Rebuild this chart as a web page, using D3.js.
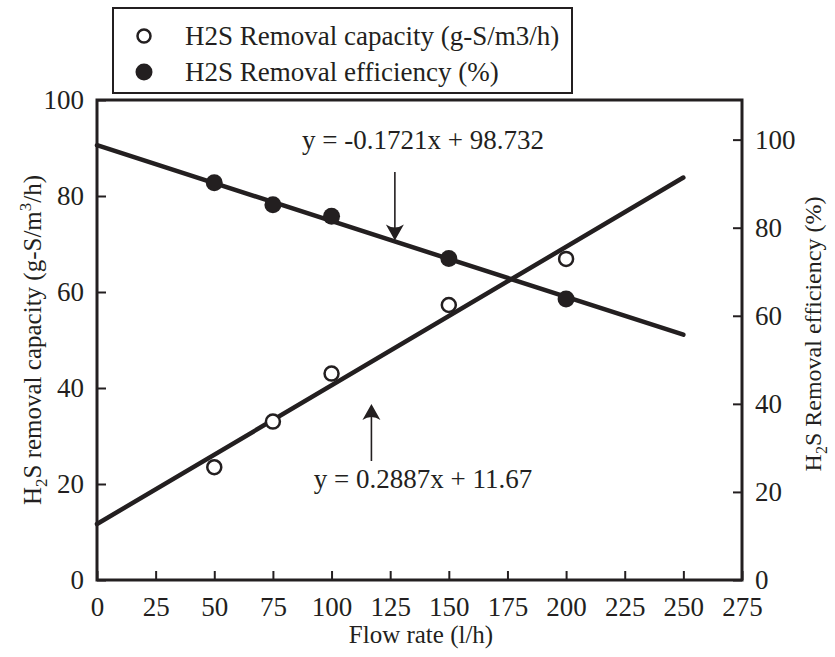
<!DOCTYPE html>
<html>
<head>
<meta charset="utf-8">
<script src="https://cdn.jsdelivr.net/npm/d3@7"></script>
<style>
  html, body { margin: 0; padding: 0; background: #fff; }
</style>
</head>
<body>
<svg id="chart" width="835" height="657"></svg>
<script>
// Flow rates tested (l/h)
const flowRates = [50, 75, 100, 150, 200];
// H2S removal capacity (g-S/m3/h), left axis
const capacity = [23.5, 33.0, 43.0, 57.3, 66.9];
// H2S removal efficiency (%), right axis
const efficiency = [90.2, 85.2, 82.6, 73.0, 63.8];
// Linear fits: y = slope * x + intercept
const capacityFit = { slope: 0.2887, intercept: 11.67, label: "y = 0.2887x + 11.67" };
const efficiencyFit = { slope: -0.1721, intercept: 98.732, label: "y = -0.1721x + 98.732" };
const fitRange = [0, 250];
const xTicks = [0, 25, 50, 75, 100, 125, 150, 175, 200, 225, 250, 275];
const leftTicks = [0, 20, 40, 60, 80, 100];
const rightTicks = [0, 20, 40, 60, 80, 100];

const ink = "#231f20";
const serif = "'Liberation Serif', serif";
const svg = d3.select("#chart").style("font-family", serif);
const m = { left: 97, right: 742, top: 100, bottom: 580 };

const x = d3.scaleLinear().domain([0, 275]).range([m.left, m.right]);
const yL = d3.scaleLinear().domain([0, 100]).range([m.bottom, m.top]);
const yR = d3.scaleLinear().domain([0, 109]).range([m.bottom, m.top]);

const tickLen = 9;
const fontSize = 27;
const titleSize = 25;

// Axes (ticks point inward)
const gx = svg.append("g").attr("transform", `translate(0,${m.bottom})`)
  .call(d3.axisBottom(x).tickValues(xTicks).tickSizeInner(-tickLen).tickSizeOuter(0).tickPadding(tickLen + 8));
const gl = svg.append("g").attr("transform", `translate(${m.left},0)`)
  .call(d3.axisLeft(yL).tickValues(leftTicks).tickSizeInner(-tickLen).tickSizeOuter(0).tickPadding(tickLen + 4));
const gr = svg.append("g").attr("transform", `translate(${m.right},0)`)
  .call(d3.axisRight(yR).tickValues(rightTicks).tickSizeInner(-tickLen).tickSizeOuter(0).tickPadding(tickLen + 4));
[gx, gl, gr].forEach(g => {
  g.attr("font-family", null).style("font-family", serif);
  g.select(".domain").remove();
  g.selectAll(".tick line").attr("stroke", ink).attr("stroke-width", 2);
  g.selectAll(".tick text").attr("font-size", fontSize).attr("fill", ink).style("font-family", serif);
});

// Plot frame
svg.append("rect")
  .attr("x", m.left).attr("y", m.top)
  .attr("width", m.right - m.left).attr("height", m.bottom - m.top)
  .attr("fill", "none").attr("stroke", ink).attr("stroke-width", 3);

// Fit lines
const fitLine = (fit, y) => d3.line()
  .x(d => x(d)).y(d => y(fit.slope * d + fit.intercept))(fitRange);
svg.append("path").attr("d", fitLine(efficiencyFit, yR))
  .attr("fill", "none").attr("stroke", ink).attr("stroke-width", 4.5).attr("stroke-linecap", "round");
svg.append("path").attr("d", fitLine(capacityFit, yL))
  .attr("fill", "none").attr("stroke", ink).attr("stroke-width", 4.5).attr("stroke-linecap", "round");

// Data points
svg.append("g").selectAll("circle").data(flowRates).join("circle")
  .attr("cx", (d) => x(d)).attr("cy", (d, i) => yL(capacity[i])).attr("r", 7)
  .attr("fill", "#fff").attr("stroke", ink).attr("stroke-width", 2.5);
svg.append("g").selectAll("circle").data(flowRates).join("circle")
  .attr("cx", (d) => x(d)).attr("cy", (d, i) => yR(efficiency[i])).attr("r", 8.5)
  .attr("fill", ink);

// Arrow helper: shaft with a swept arrowhead at (tx, ty)
function arrow(x0, y0, tx, ty) {
  const dir = Math.sign(ty - y0);
  svg.append("line").attr("x1", x0).attr("y1", y0).attr("x2", tx).attr("y2", ty - dir * 4)
    .attr("stroke", ink).attr("stroke-width", 1.6);
  const h = 16, w = 9, notch = 10;
  svg.append("path")
    .attr("d", `M${tx},${ty} L${tx - w},${ty - dir * h} Q${tx},${ty - dir * notch} ${tx + w},${ty - dir * h} Z`)
    .attr("fill", ink);
}

function label(xp, yp, txt, size) {
  return svg.append("text").attr("x", xp).attr("y", yp).attr("text-anchor", "middle")
    .attr("font-size", size || fontSize).attr("fill", ink).style("font-family", serif).text(txt);
}

// Fit equation labels with arrows
const effX = 127, capX = 117;
label(423, 149, efficiencyFit.label);
arrow(x(effX), 172, x(effX), yR(efficiencyFit.slope * effX + efficiencyFit.intercept) - 1);

label(423, 488, capacityFit.label);
arrow(x(capX), 461, x(capX), 404);

// Axis titles
label(421, 643, "Flow rate (l/h)", titleSize);

const leftTitle = svg.append("text")
  .attr("transform", `translate(41,340) rotate(-90)`)
  .attr("text-anchor", "middle").attr("font-size", titleSize).attr("fill", ink).style("font-family", serif);
leftTitle.append("tspan").text("H");
leftTitle.append("tspan").attr("font-size", 17).attr("dy", 6).text("2");
leftTitle.append("tspan").attr("dy", -6).text("S removal capacity (g-S/m");
leftTitle.append("tspan").attr("font-size", 17).attr("dy", -10).text("3");
leftTitle.append("tspan").attr("dy", 10).text("/h)");

const rightTitle = svg.append("text")
  .attr("transform", `translate(821,334) rotate(-90)`)
  .attr("text-anchor", "middle").attr("font-size", 24).attr("fill", ink).style("font-family", serif);
rightTitle.append("tspan").text("H");
rightTitle.append("tspan").attr("font-size", 16).attr("dy", 6).text("2");
rightTitle.append("tspan").attr("dy", -6).text("S Removal efficiency (%)");

// Legend
const legend = svg.append("g");
legend.append("rect").attr("x", 113).attr("y", 8).attr("width", 459).attr("height", 85)
  .attr("fill", "#fff").attr("stroke", ink).attr("stroke-width", 2);
const legendItems = [
  { label: "H2S Removal capacity (g-S/m3/h)", filled: false },
  { label: "H2S Removal efficiency (%)", filled: true }
];
legendItems.forEach((d, i) => {
  const cy = 36 + i * 36;
  legend.append("circle").attr("cx", 144).attr("cy", cy).attr("r", d.filled ? 8.5 : 6.5)
    .attr("fill", d.filled ? ink : "#fff").attr("stroke", ink).attr("stroke-width", d.filled ? 0 : 2.5);
  legend.append("text").attr("x", 185).attr("y", cy + 9).attr("font-size", fontSize)
    .attr("fill", ink).style("font-family", serif).text(d.label);
});
</script>
</body>
</html>
